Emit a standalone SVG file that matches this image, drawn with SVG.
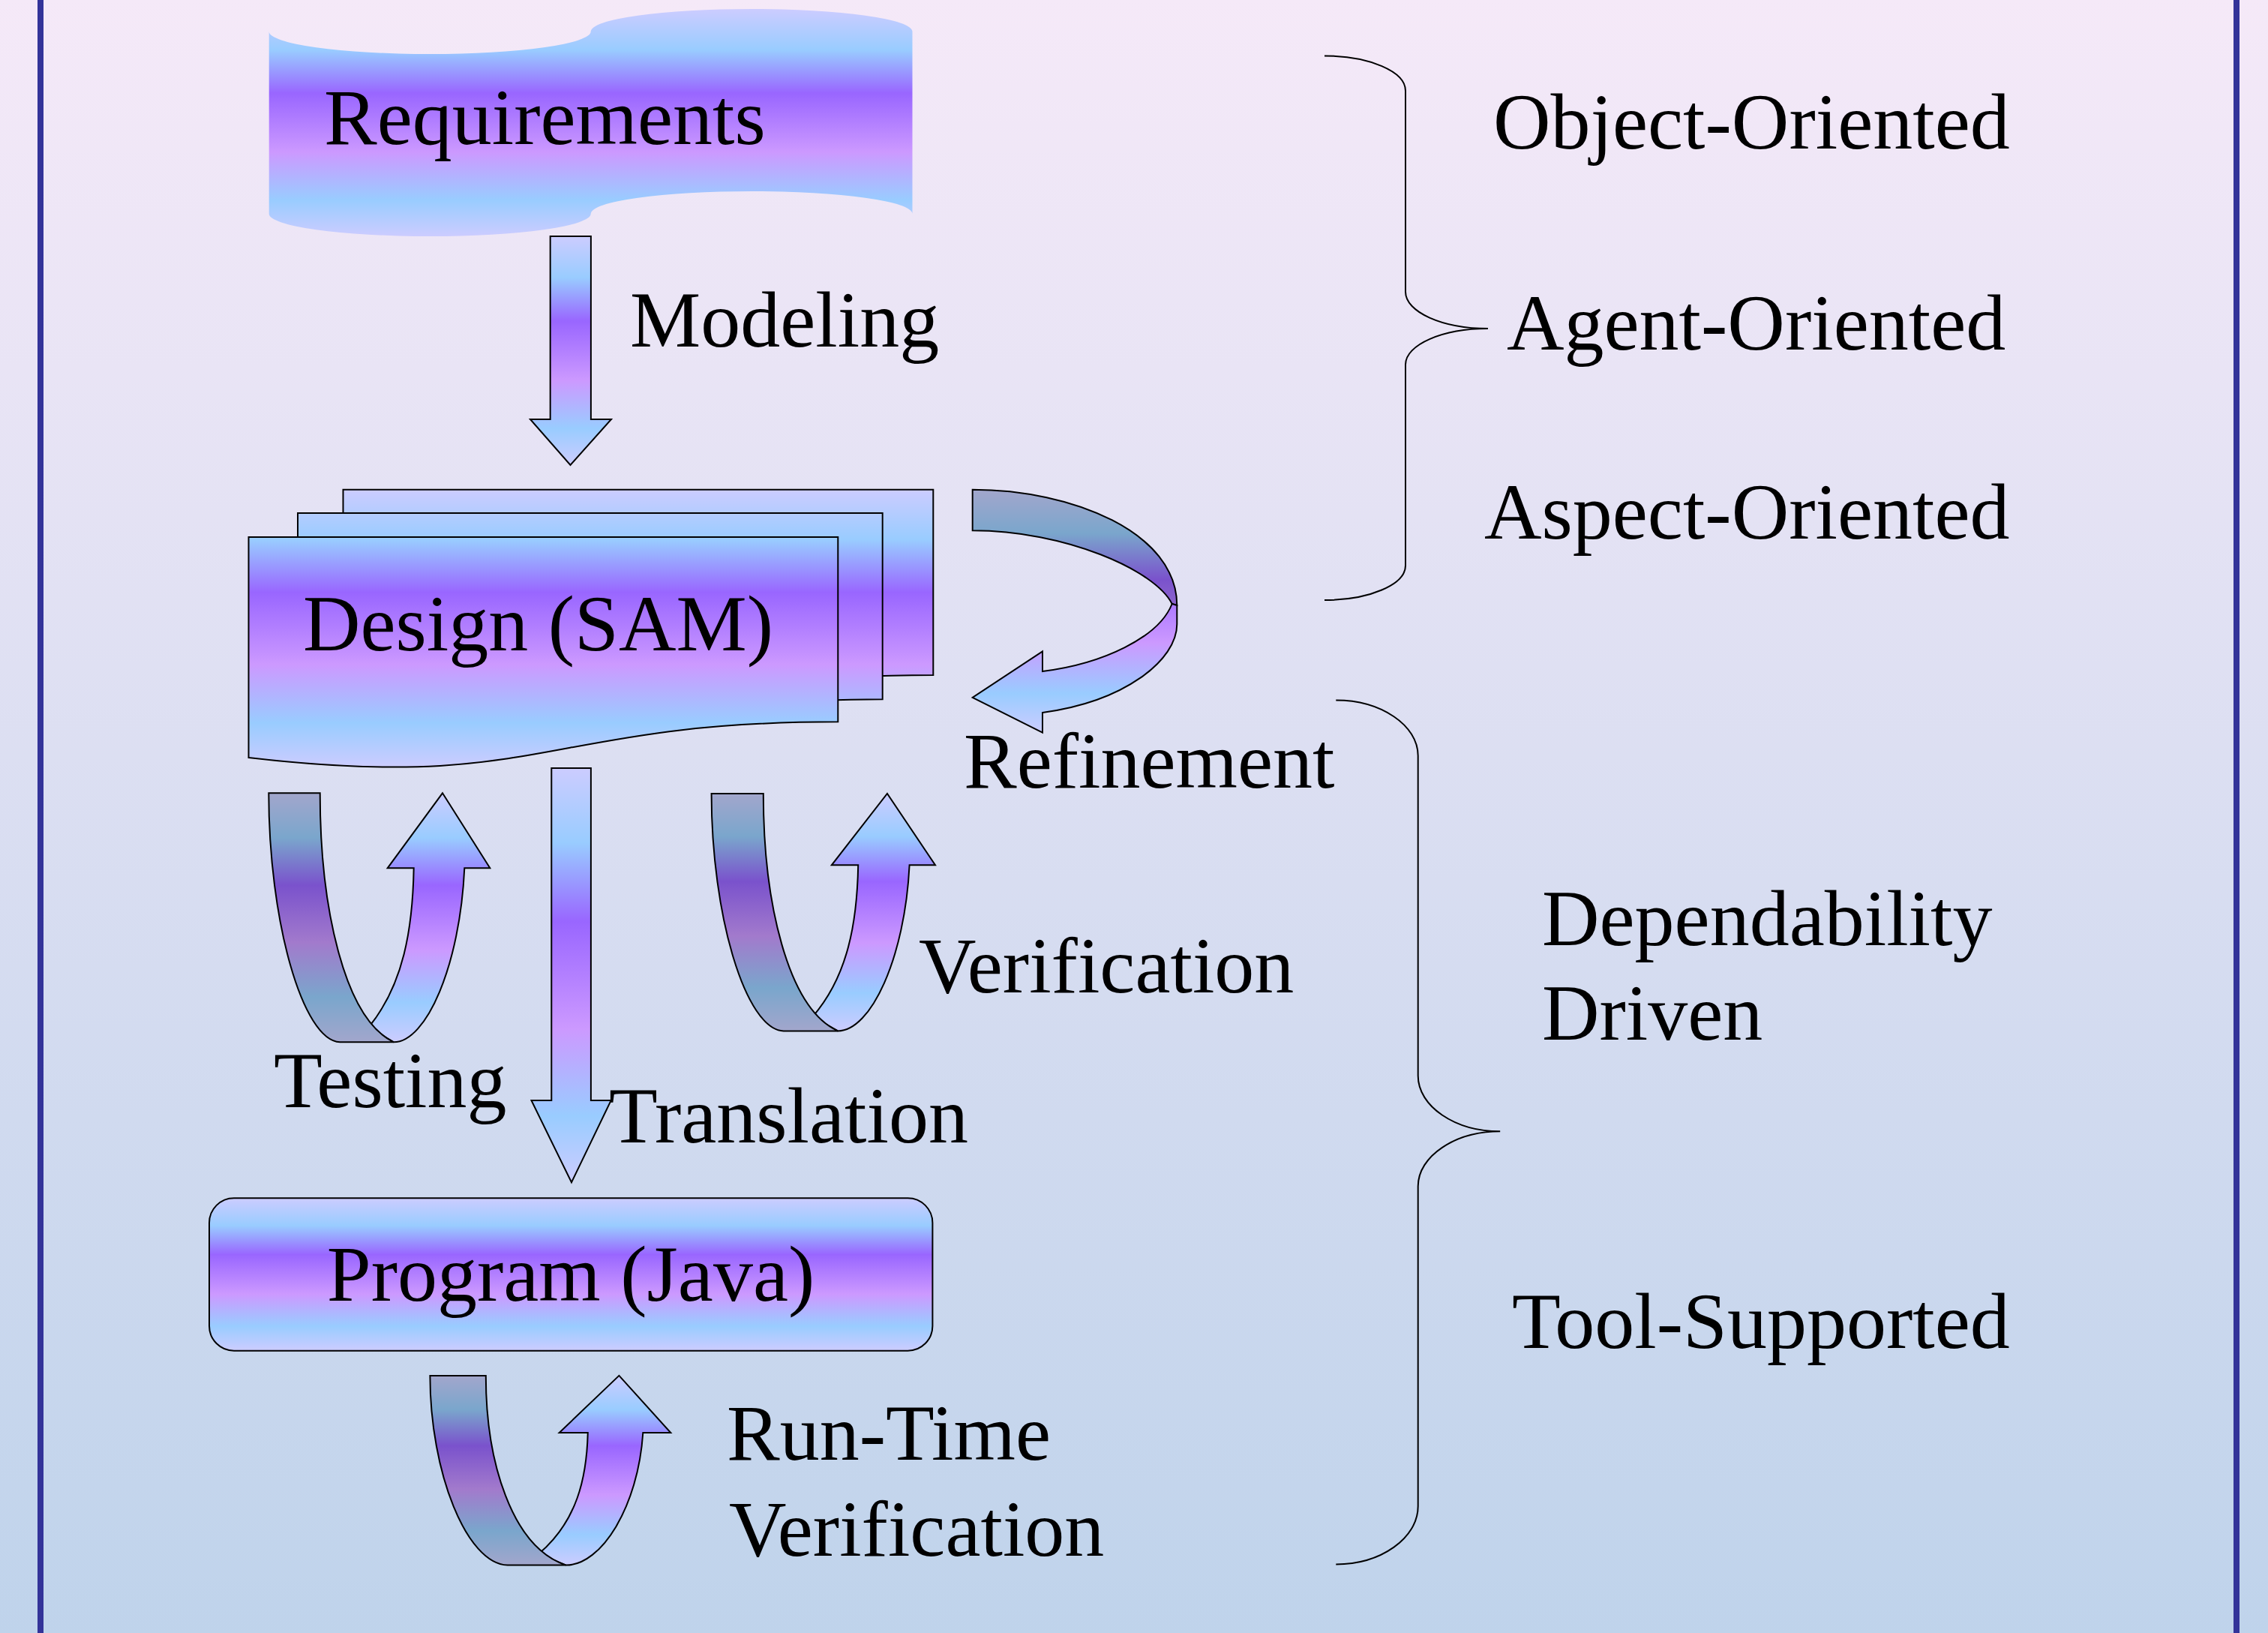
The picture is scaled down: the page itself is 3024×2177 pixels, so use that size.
<svg xmlns="http://www.w3.org/2000/svg" xmlns:xlink="http://www.w3.org/1999/xlink" width="3024" height="2177" viewBox="0 0 3024 2177">
<style>
.lbl { font-family: "Liberation Serif", "Times New Roman", serif; font-size: 106px; fill: #000; }
.ol { stroke: #000; stroke-width: 2; stroke-linejoin: miter; vector-effect: non-scaling-stroke; }
.brace { fill: none; stroke: #000; stroke-width: 2; }
.bar { fill: #333399; }
</style>
<defs>
<linearGradient id="bg" x1="0" y1="0" x2="0" y2="1">
<stop offset="0" stop-color="#f5e9f8"/>
<stop offset="1" stop-color="#bfd3eb"/>
</linearGradient>
<linearGradient id="gMain" x1="0" y1="0" x2="0" y2="1">
<stop offset="0" stop-color="#ccccff"/>
<stop offset="0.18" stop-color="#99ccff"/>
<stop offset="0.37" stop-color="#9966ff"/>
<stop offset="0.63" stop-color="#cc99ff"/>
<stop offset="0.84" stop-color="#99ccff"/>
<stop offset="1" stop-color="#ccccff"/>
</linearGradient>
<linearGradient id="gDark" x1="0" y1="0" x2="0" y2="1">
<stop offset="0" stop-color="#a2a6cc"/>
<stop offset="0.18" stop-color="#7aa6cc"/>
<stop offset="0.37" stop-color="#7a52cc"/>
<stop offset="0.6" stop-color="#a27acc"/>
<stop offset="0.82" stop-color="#7aa6cc"/>
<stop offset="1" stop-color="#a2a6cc"/>
</linearGradient>
<linearGradient id="gDesign" xlink:href="#gMain" gradientUnits="userSpaceOnUse" x1="0" y1="652.7" x2="0" y2="1023"/>
<linearGradient id="gRefL" xlink:href="#gMain" gradientUnits="userSpaceOnUse" x1="0" y1="652.7" x2="0" y2="976.7"/>
<linearGradient id="gRefD" xlink:href="#gDark" gradientUnits="userSpaceOnUse" x1="0" y1="652.7" x2="0" y2="976.7"/>
</defs>

<rect x="0" y="0" width="3024" height="2177" fill="url(#bg)"/>
<rect class="bar" x="50" y="0" width="8" height="2177"/>
<rect class="bar" x="2978" y="0" width="8" height="2177"/>

<g id="node-requirements">
<path fill="url(#gMain)" d="M358.7,42 A214.5,30 0 0 0 787.7,42 A214.4,30 0 0 1 1216.5,42 L1216.5,285 A214.4,30 0 0 0 787.7,285 A214.5,30 0 0 1 358.7,285 Z"/>
<text class="lbl" x="432" y="192">Requirements</text>
</g>

<g id="node-design">
<path class="ol" fill="url(#gDesign)" d="M457.5,652.7 L1244.3,652.7 L1244.3,900 C850.9,900 850.9,993.7 457.5,947.7 Z"/>
<path class="ol" fill="url(#gDesign)" d="M397,684 L1176.7,684 L1176.7,932.3 C786.9,932.3 786.9,1026 397,980 Z"/>
<path class="ol" fill="url(#gDesign)" d="M331.5,716 L1117.3,716 L1117.3,962.3 C724.4,962.3 724.4,1056 331.5,1010 Z"/>
<text class="lbl" x="404" y="866.7">Design (SAM)</text>
</g>

<g id="node-program">
<rect class="ol" fill="url(#gMain)" x="279" y="1597.2" width="964.4" height="203.5" rx="33" ry="33"/>
<text class="lbl" x="761" y="1734" text-anchor="middle">Program (Java)</text>
</g>

<g id="connectors">
<g id="arrow-modeling">
<path class="ol" fill="url(#gMain)" d="M733.7,315 L787.9,315 L787.9,559 L815,559 L760.5,620 L707,559 L733.7,559 Z"/>
<text class="lbl" x="840" y="461.5">Modeling</text>
</g>
<g id="arrow-translation">
<path class="ol" fill="url(#gMain)" d="M735.3,1024 L787.9,1024 L787.9,1467 L814.7,1467 L762,1576.3 L708.5,1467 L735.3,1467 Z"/>
<text class="lbl" x="812" y="1523">Translation</text>
</g>
<g id="arrow-refinement">
<path class="ol" fill="url(#gRefD)" d="M1296.7,652.7 C1430,652.7 1569.3,710 1569.3,807 L1562.7,805 C1540,760 1420,707.3 1296.7,707.3 Z"/>
<path class="ol" fill="url(#gRefL)" d="M1562.7,805 L1569.3,807 L1569.3,832 C1569.3,880 1500,935 1390,950 L1390,976.7 L1296.7,930 L1390,868.3 L1390,895 C1470,885 1545,850 1562.7,805 Z"/>
<text class="lbl" x="1285" y="1050">Refinement</text>
</g>
<g id="arrow-testing">
<g transform="translate(358.3,1057.3)">
<path class="ol" fill="url(#gMain)" d="M133.4,312 C180,255 192,180 193.4,100 L158.4,100 L231.7,0 L295,100 L261,100 C255,230 210,332 166.7,332 Z"/>
<path class="ol" fill="url(#gDark)" d="M0,0 L68.4,0 C68.4,150 100,300 166.7,332 L95,332 C45,330 0,170 0,0 Z"/>
</g>
<text class="lbl" x="365" y="1476">Testing</text>
</g>
<g id="arrow-verification">
<g transform="translate(948.6,1058) scale(1.0115,0.953)">
<path class="ol" fill="url(#gMain)" d="M133.4,312 C180,255 192,180 193.4,100 L158.4,100 L231.7,0 L295,100 L261,100 C255,230 210,332 166.7,332 Z"/>
<path class="ol" fill="url(#gDark)" d="M0,0 L68.4,0 C68.4,150 100,300 166.7,332 L95,332 C45,330 0,170 0,0 Z"/>
</g>
<text class="lbl" x="1225" y="1323.4">Verification</text>
</g>
<g id="arrow-runtime">
<g transform="translate(573.4,1833.9) scale(1.0878,0.7611)">
<path class="ol" fill="url(#gMain)" d="M133.4,312 C180,255 192,180 193.4,100 L158.4,100 L231.7,0 L295,100 L261,100 C255,230 210,332 166.7,332 Z"/>
<path class="ol" fill="url(#gDark)" d="M0,0 L68.4,0 C68.4,150 100,300 166.7,332 L95,332 C45,330 0,170 0,0 Z"/>
</g>
<text class="lbl" x="969" y="1946">Run-Time</text>
<text class="lbl" x="972" y="2074">Verification</text>
</g>
</g>

<g id="brace-paradigms">
<path class="brace" d="M1766,74.5 C1825.6,74.5 1874,95.3 1874,121 L1874,389 C1874,416 1923,438 1984,438 C1923,438 1874,459.5 1874,486 L1874,754 C1874,779.4 1825.6,800 1766,800"/>
<text class="lbl" x="1991" y="198">Object-Oriented</text>
<text class="lbl" x="2009" y="466">Agent-Oriented</text>
<text class="lbl" x="1979" y="718">Aspect-Oriented</text>
</g>

<g id="brace-qualities">
<path class="brace" d="M1781.3,933.5 C1841.2,933.5 1890.7,966.8 1890.7,1007.6 L1890.7,1434 C1890.7,1474.9 1940,1508.3 2000.2,1508.3 C1940,1508.3 1890.7,1541.3 1890.7,1581.6 L1890.7,2008 C1890.7,2050.5 1841.2,2085.4 1781.3,2085.4"/>
<text class="lbl" x="2056" y="1260">Dependability</text>
<text class="lbl" x="2056" y="1386">Driven</text>
<text class="lbl" x="2016" y="1797">Tool-Supported</text>
</g>
</svg>
